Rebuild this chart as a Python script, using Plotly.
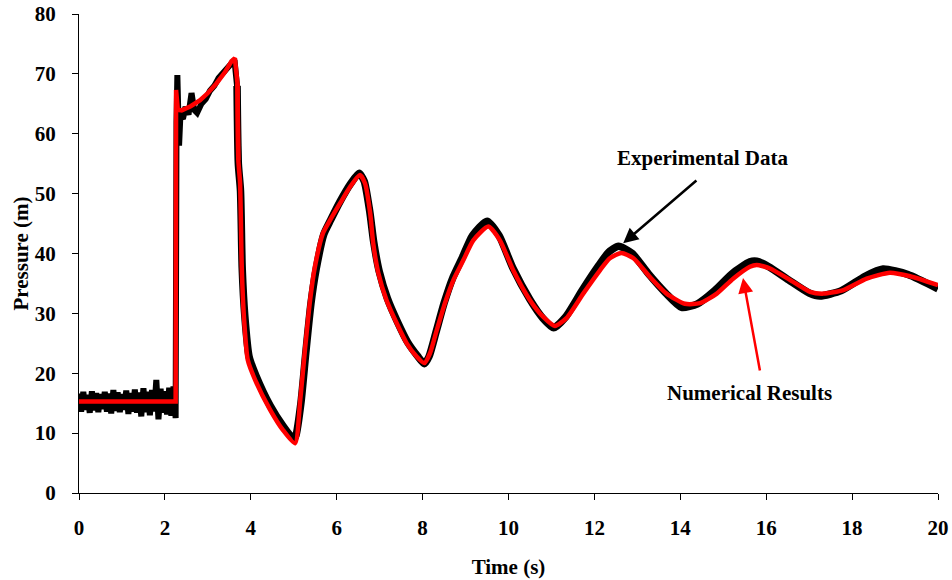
import plotly.graph_objects as go

# ---- Numerical results (red) ----
num_t = [0, 2.25, 2.26, 2.30, 2.39, 2.60, 2.82, 3.00, 3.20, 3.40, 3.55, 3.63, 3.69, 3.71, 3.75,
         3.79, 3.84, 3.93, 4.10, 4.45, 4.75, 5.03, 5.15, 5.26, 5.38, 5.49, 5.68, 5.84, 6.08,
         6.31, 6.54, 6.66, 6.78, 6.85, 6.97, 7.16, 7.40, 7.63, 7.86, 8.04, 8.17, 8.33, 8.52,
         8.72, 8.95, 9.18, 9.53, 9.80, 10.11, 10.50, 10.81, 11.08, 11.35, 11.74, 12.13, 12.36,
         12.63, 12.91, 13.29, 13.68, 14.11, 14.46, 14.85, 15.23, 15.62, 15.78, 16.09, 16.55,
         17.02, 17.33, 17.80, 18.34, 18.88, 19.35, 20.0]
num_p = [15.3, 15.3, 67.3, 64.0, 63.9, 64.6, 65.6, 66.8, 68.4, 70.3, 72.1, 72.6, 68.4, 55.6, 51.8,
         37.6, 29.4, 22.2, 18.9, 13.9, 10.5, 8.3, 15.5, 23.9, 32.2, 37.7, 43.4, 45.5, 48.4,
         51.1, 53.1, 51.7, 46.7, 41.7, 36.7, 32.2, 28.3, 25.0, 22.8, 21.7, 23.3, 27.2, 31.7,
         35.6, 38.9, 42.2, 44.5, 42.2, 37.2, 32.2, 29.4, 27.9, 29.2, 33.3, 37.2, 39.2,
         40.1, 39.2, 36.1, 33.3, 31.6, 31.7, 33.3, 35.8, 37.8, 38.1, 37.5, 35.6,
         33.6, 33.3, 33.9, 35.8, 36.8, 36.2, 34.7]

# ---- Experimental data (black) ----
exp_t = [0.00, 0.05, 0.10, 0.15, 0.20, 0.25, 0.30, 0.35, 0.40, 0.45, 0.50, 0.55, 0.60, 0.65,
         0.70, 0.75, 0.80, 0.85, 0.90, 0.95, 1.00, 1.05, 1.10, 1.15, 1.20, 1.25, 1.30, 1.35,
         1.40, 1.45, 1.50, 1.55, 1.60, 1.65, 1.70, 1.75, 1.80, 1.85, 1.90, 1.95, 2.00, 2.05,
         2.10, 2.15, 2.20, 2.25,
         2.27, 2.29, 2.31, 2.33, 2.36, 2.42, 2.48, 2.55, 2.62, 2.68, 2.75, 2.85, 2.95, 3.05,
         3.15, 3.25, 3.35, 3.45, 3.55, 3.62, 3.68, 3.71, 3.76, 3.80, 3.86, 3.96, 4.12, 4.45,
         4.75, 5.00, 5.05, 5.17, 5.28, 5.40, 5.52, 5.70, 5.86, 6.08, 6.31, 6.52, 6.64, 6.77,
         6.86, 6.99, 7.18, 7.42, 7.65, 7.88, 8.04, 8.15, 8.31, 8.50, 8.70, 8.93, 9.16, 9.50,
         9.78, 10.10, 10.50, 10.80, 11.05, 11.33, 11.72, 12.10, 12.33, 12.56, 12.88, 13.26,
         13.66, 14.03, 14.40, 14.80, 15.20, 15.62, 15.78, 16.06, 16.52, 17.00, 17.25, 17.75,
         18.30, 18.72, 19.30, 20.0]
exp_p = [16.6, 13.6, 16.9, 13.9, 16.4, 13.4, 17.0, 13.8, 16.7, 13.5, 16.5, 14.0, 16.9, 13.6,
         16.6, 13.3, 17.2, 13.7, 16.8, 13.5, 16.5, 13.9, 17.1, 13.2, 16.7, 13.6, 17.3, 13.4,
         16.8, 12.8, 17.5, 13.5, 16.9, 13.0, 17.2, 13.6, 18.9, 12.3, 17.4, 13.4, 17.0, 13.1,
         17.6, 12.9, 17.8, 12.5,
         62.0, 69.8, 64.0, 58.0, 63.0, 62.5, 64.5, 63.2, 66.8, 64.0, 63.5, 65.0, 65.8, 67.2,
         68.0, 69.3, 70.2, 71.0, 71.8, 72.3, 68.0, 55.0, 50.5, 37.5, 29.6, 22.8, 19.6, 14.6,
         11.2, 9.0, 9.6, 15.2, 23.4, 31.6, 37.3, 43.2, 45.6, 48.7, 51.5, 53.4, 52.1, 47.0,
         42.0, 37.0, 32.5, 28.5, 25.2, 22.9, 21.6, 22.8, 26.8, 31.7, 35.9, 39.4, 43.0, 45.4,
         43.0, 37.6, 32.3, 29.2, 27.6, 29.4, 33.9, 38.0, 40.2, 41.2, 40.0, 36.6,
         33.4, 31.0, 31.6, 33.8, 36.6, 38.6, 38.7, 37.8, 35.6, 33.4, 32.9, 33.8,
         36.2, 37.4, 36.5, 34.1]

x_ticks = [0, 2, 4, 6, 8, 10, 12, 14, 16, 18, 20]
y_ticks = [0, 10, 20, 30, 40, 50, 60, 70, 80]

FONT = "Liberation Serif, Times New Roman, serif"
FS = 21

# split indices: jumpy parts drawn straight, smooth oscillation drawn as spline
EXP_SPLIT = exp_t.index(3.68)
NUM_SPLIT = num_t.index(3.69)

fig = go.Figure()
fig.add_trace(go.Scatter(x=exp_t[:EXP_SPLIT + 2], y=exp_p[:EXP_SPLIT + 2], mode="lines",
                         line=dict(color="black", width=6), showlegend=False))
fig.add_trace(go.Scatter(x=exp_t[EXP_SPLIT:], y=exp_p[EXP_SPLIT:], mode="lines",
                         line=dict(color="black", width=7.5, shape="spline", smoothing=0.6),
                         showlegend=False))
fig.add_trace(go.Scatter(x=num_t[:NUM_SPLIT + 2], y=num_p[:NUM_SPLIT + 2], mode="lines",
                         line=dict(color="#ff0000", width=4.5), showlegend=False))
fig.add_trace(go.Scatter(x=num_t[NUM_SPLIT:], y=num_p[NUM_SPLIT:], mode="lines",
                         line=dict(color="#ff0000", width=4.5, shape="spline", smoothing=0.6),
                         showlegend=False))

axis_common = dict(showgrid=False, zeroline=False, showline=True, linecolor="black",
                   linewidth=1, ticks="outside", tickcolor="black", ticklen=6, tickwidth=1,
                   tickfont=dict(family=FONT, size=FS, color="black", weight="bold"),
                   ticklabeloverflow="allow",
                   mirror=False, automargin=False)

fig.update_layout(
    width=952, height=580,
    margin=dict(l=79, r=14, t=14, b=87, autoexpand=False),
    paper_bgcolor="white", plot_bgcolor="white",
    font=dict(family=FONT, size=FS, color="black", weight="bold"),
    xaxis=dict(range=[0, 20], tickvals=x_ticks, ticklabelstandoff=10,
               title=dict(text="Time (s)", font=dict(family=FONT, size=FS, weight="bold"),
                          standoff=20),
               **axis_common),
    yaxis=dict(range=[0, 80], tickvals=y_ticks, ticklabelstandoff=12,
               title=dict(text="Pressure (m)", font=dict(family=FONT, size=FS, weight="bold"),
                          standoff=0),
               **axis_common),
    annotations=[
        dict(x=12.67, y=41.7, ax=14.41, ay=52.4, xref="x", yref="y", axref="x", ayref="y",
             showarrow=True, arrowhead=2, arrowsize=1.2, arrowwidth=2.5, arrowcolor="black",
             text=""),
        dict(x=14.51, y=55.9, xref="x", yref="y", showarrow=False,
             text="Experimental Data",
             font=dict(family=FONT, size=FS, color="black", weight="bold")),
        dict(x=15.46, y=35.9, ax=15.86, ay=20.2, xref="x", yref="y", axref="x", ayref="y",
             showarrow=True, arrowhead=2, arrowsize=1.2, arrowwidth=2.5, arrowcolor="#ff0000",
             text=""),
        dict(x=15.62, y=16.7, xref="x", yref="y", showarrow=False,
             text="Numerical Results",
             font=dict(family=FONT, size=FS, color="black", weight="bold")),
    ],
)

# remove the browser's default 8px body margin so the figure fills the window exactly
fig.write_html("out.html", config={"displayModeBar": False},
               post_script="document.body.style.margin='0';document.body.style.overflow='hidden';")
